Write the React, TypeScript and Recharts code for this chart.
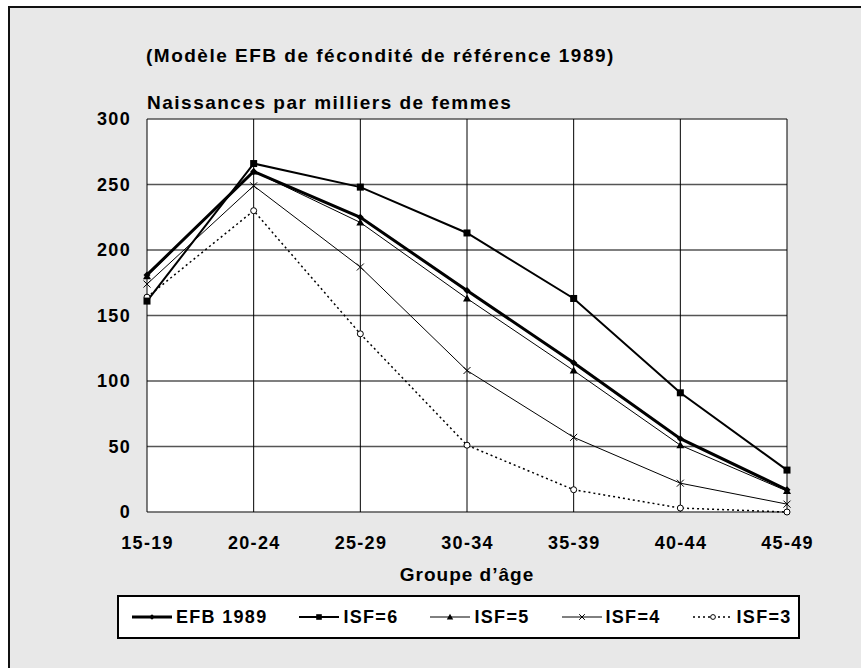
import { LineChart, Line, XAxis, YAxis, CartesianGrid } from 'recharts';

const ages = ['15-19', '20-24', '25-29', '30-34', '35-39', '40-44', '45-49'];
const efb1989 = [181, 260, 225, 169, 114, 56, 17];
const isf6 = [161, 266, 248, 213, 163, 91, 32];
const isf5 = [180, 260, 221, 163, 108, 51, 16];
const isf4 = [174, 249, 187, 108, 57, 22, 6];
const isf3 = [164, 230, 136, 51, 17, 3, 0];
const yTicks = [0, 50, 100, 150, 200, 250, 300];

const chartData = ages.map((age, i) => ({
  age,
  efb: efb1989[i],
  isf6: isf6[i],
  isf5: isf5[i],
  isf4: isf4[i],
  isf3: isf3[i],
}));

// legend order, drawn in reverse so EFB sits on top
const series = [
  { key: 'efb', name: 'EFB 1989', width: 3, dash: undefined, marker: 'diamond' },
  { key: 'isf6', name: 'ISF=6', width: 2, dash: undefined, marker: 'square' },
  { key: 'isf5', name: 'ISF=5', width: 1, dash: undefined, marker: 'triangle' },
  { key: 'isf4', name: 'ISF=4', width: 1, dash: undefined, marker: 'cross' },
  { key: 'isf3', name: 'ISF=3', width: 1.5, dash: '2 3', marker: 'circle' },
];

const FONT = '"Liberation Sans", Arial, sans-serif';
const PLOT_LEFT = 147;
const PLOT_BOTTOM = 512;

const Marker = ({ kind, cx, cy, small }: any) => {
  const s = small ? 0.8 : 1;
  if (kind === 'diamond') {
    const r = 3.5 * s;
    return <polygon points={`${cx},${cy - r} ${cx + r},${cy} ${cx},${cy + r} ${cx - r},${cy}`} fill="#000" />;
  }
  if (kind === 'square') {
    const r = 3.5 * s;
    return <rect x={cx - r} y={cy - r} width={r * 2} height={r * 2} fill="#000" />;
  }
  if (kind === 'triangle') {
    const r = 4 * s;
    return <polygon points={`${cx},${cy - r} ${cx + r},${cy + r * 0.75} ${cx - r},${cy + r * 0.75}`} fill="#000" />;
  }
  if (kind === 'cross') {
    const r = 3.5 * s;
    return (
      <g stroke="#000" strokeWidth={1}>
        <line x1={cx - r} y1={cy - r} x2={cx + r} y2={cy + r} />
        <line x1={cx - r} y1={cy + r} x2={cx + r} y2={cy - r} />
      </g>
    );
  }
  return <circle cx={cx} cy={cy} r={3 * s} fill="#fff" stroke="#000" strokeWidth={1} />;
};

const YTick = ({ y, payload }: any) => (
  <text x={PLOT_LEFT - 16} y={y} textAnchor="end" dominantBaseline="central"
    fontFamily={FONT} fontSize={18} fontWeight="bold" letterSpacing={1.3} fill="#000">
    {payload.value}
  </text>
);

const XTick = ({ x, payload }: any) => (
  <text x={x + 0.6} y={PLOT_BOTTOM + 31} textAnchor="middle" dominantBaseline="central"
    fontFamily={FONT} fontSize={18} fontWeight="bold" letterSpacing={1.3} fill="#000">
    {payload.value}
  </text>
);

const LegendBox = () => (
  <div style={{
    position: 'absolute', left: 117, top: 595,
    boxSizing: 'border-box', width: 683, height: 44, border: '2px solid #000', background: '#fff',
    display: 'flex', alignItems: 'center', paddingLeft: 13, fontFamily: FONT, whiteSpace: 'nowrap',
  }}>
    {series.map((s) => (
      <div key={s.key} style={{ display: 'flex', alignItems: 'center', marginRight: 32, flexShrink: 0 }}>
        <svg width={40} height={12}>
          <line x1={0} y1={6} x2={40} y2={6} stroke="#000" strokeWidth={s.width} strokeDasharray={s.dash} />
          <Marker kind={s.marker} cx={20} cy={6} small />
        </svg>
        <span style={{ marginLeft: 4, fontSize: 18, fontWeight: 'bold', letterSpacing: 1.3, color: '#000' }}>
          {s.name}
        </span>
      </div>
    ))}
  </div>
);

const App = () => {
  return (
    <div style={{ position: 'absolute', left: 0, top: 0, width: 861, height: 668, background: '#fff', overflow: 'hidden' }}>
      <div style={{
        position: 'absolute', left: 8, top: 6, width: 870, height: 680, background: '#e8e8e8',
        borderTop: '2px solid #111', borderLeft: '2px solid #111',
      }} />
      <div style={{ position: 'absolute', left: 146, top: 45, fontFamily: FONT, fontSize: 19, fontWeight: 'bold', color: '#000', whiteSpace: 'nowrap', letterSpacing: 1.5 }}>
        (Modèle EFB de fécondité de référence 1989)
      </div>
      <div style={{ position: 'absolute', left: 147, top: 92, fontFamily: FONT, fontSize: 19, fontWeight: 'bold', color: '#000', whiteSpace: 'nowrap', letterSpacing: 1.5 }}>
        Naissances par milliers de femmes
      </div>
      <div style={{ position: 'absolute', left: 367, width: 200, top: 564, textAlign: 'center', fontFamily: FONT, fontSize: 19, fontWeight: 'bold', color: '#000', whiteSpace: 'nowrap', letterSpacing: 1 }}>
        Groupe d’âge
      </div>
      <div style={{ position: 'absolute', left: 0, top: 0 }}>
        <LineChart width={861} height={668} data={chartData}
          margin={{ top: 119, right: 74, bottom: 126, left: 87 }}>
          <CartesianGrid vertical={false} stroke="#555" strokeWidth={1.5} fill="#fff" />
          <CartesianGrid horizontal={false} stroke="#000" strokeWidth={1} />
          <XAxis dataKey="age" height={30} axisLine={false} tickLine={false} tick={<XTick />} interval={0} />
          <YAxis domain={[0, 300]} ticks={yTicks} width={60} axisLine={false} tickLine={false} tick={<YTick />} interval={0} />
          {[...series].reverse().map((s) => (
            <Line key={s.key} type="linear" dataKey={s.key} name={s.name} stroke="#000"
              strokeWidth={s.width} strokeDasharray={s.dash} isAnimationActive={false}
              dot={(p: any) => <Marker key={`${s.key}-${p.index}`} kind={s.marker} cx={p.cx} cy={p.cy} />}
              activeDot={false} />
          ))}
        </LineChart>
      </div>
      <LegendBox />
    </div>
  );
};

export default App;
